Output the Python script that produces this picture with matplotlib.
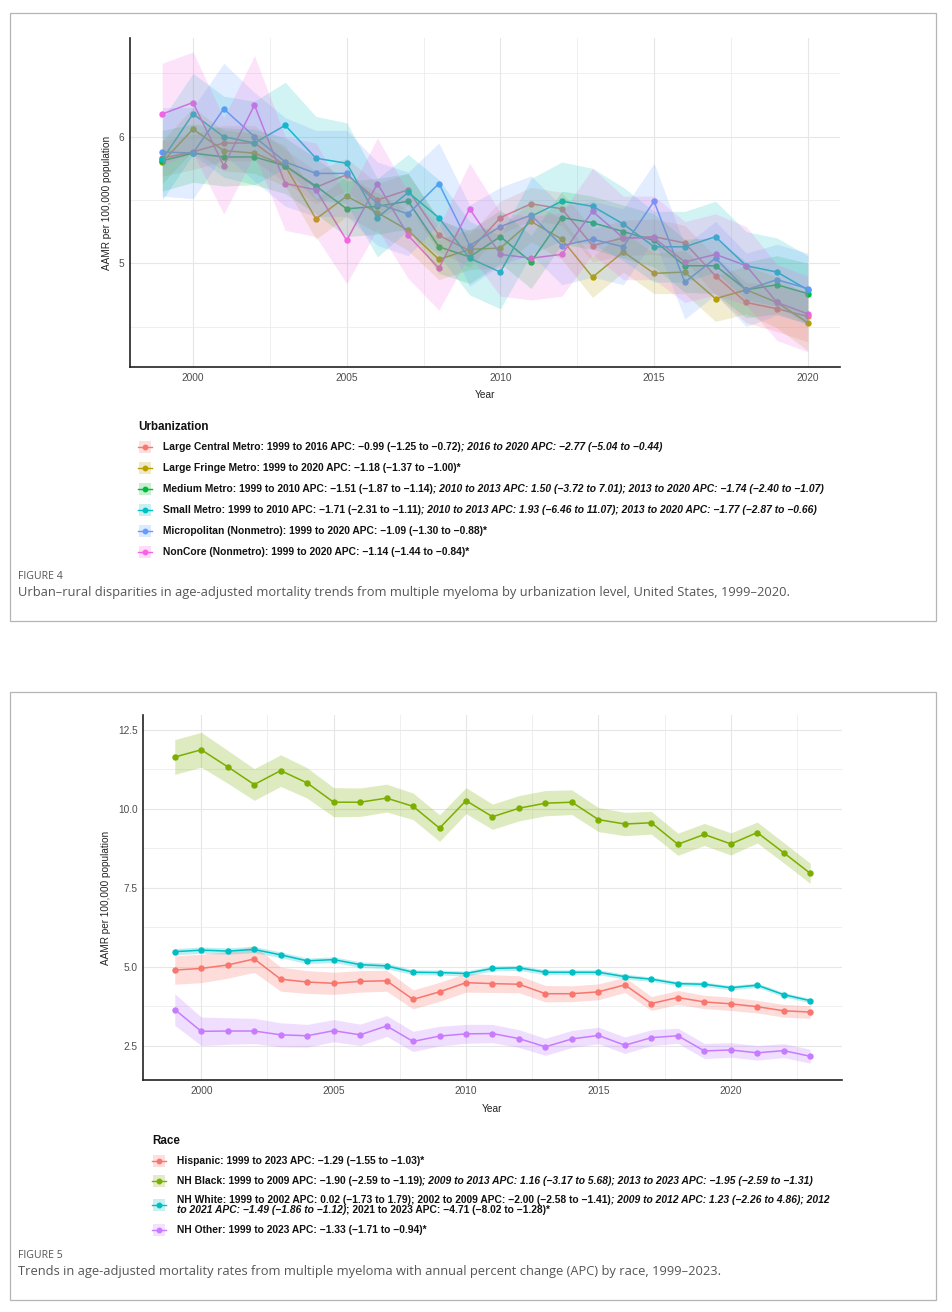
import matplotlib as mpl
mpl.use('Agg')
import matplotlib.pyplot as plt
from matplotlib import font_manager
from matplotlib.patches import Rectangle
from matplotlib.lines import Line2D

W, H = 952, 1312

# ---------------- Figure 4 data (urbanization) ----------------
years_urban = list(range(1999, 2021))
urban_colors = ['#F8766D', '#B79F00', '#00BA38', '#00BFC4', '#619CFF', '#F564E3']

large_central = [5.83, 5.88, 5.95, 5.95, 5.77, 5.60, 5.70, 5.50, 5.58, 5.22, 5.10,
                 5.36, 5.47, 5.43, 5.14, 5.20, 5.21, 5.16, 4.90, 4.69, 4.64, 4.58]
large_fringe = [5.80, 6.06, 5.89, 5.87, 5.77, 5.35, 5.53, 5.40, 5.26, 5.03, 5.11,
                5.12, 5.33, 5.19, 4.89, 5.09, 4.92, 4.93, 4.72, 4.79, 4.69, 4.53]
medium_metro = [5.81, 5.87, 5.84, 5.84, 5.77, 5.61, 5.43, 5.45, 5.49, 5.13, 5.05,
                5.21, 5.01, 5.36, 5.32, 5.25, 5.18, 4.98, 4.98, 4.79, 4.83, 4.76]
small_metro = [5.82, 6.18, 6.00, 5.95, 6.09, 5.83, 5.79, 5.36, 5.56, 5.36, 5.04,
               4.93, 5.37, 5.49, 5.45, 5.31, 5.13, 5.13, 5.21, 4.98, 4.93, 4.79]
micropolitan = [5.88, 5.87, 6.22, 6.00, 5.80, 5.71, 5.71, 5.47, 5.39, 5.63, 5.14,
                5.29, 5.38, 5.14, 5.19, 5.13, 5.49, 4.85, 5.04, 4.79, 4.87, 4.80]
noncore = [6.18, 6.27, 5.77, 6.25, 5.63, 5.58, 5.18, 5.63, 5.22, 4.96, 5.43,
           5.07, 5.04, 5.07, 5.41, 5.20, 5.20, 5.01, 5.07, 4.98, 4.69, 4.60]

# half-width of 95% CI ribbons
large_central_ci = [0.14, 0.14, 0.14, 0.14, 0.13, 0.13, 0.13, 0.13, 0.13, 0.13, 0.13,
                    0.13, 0.13, 0.13, 0.13, 0.14, 0.14, 0.14, 0.15, 0.16, 0.18, 0.20]
large_fringe_ci = [0.17, 0.17, 0.16, 0.16, 0.16, 0.16, 0.16, 0.16, 0.16, 0.16, 0.16,
                   0.16, 0.16, 0.16, 0.16, 0.16, 0.16, 0.17, 0.18, 0.19, 0.20, 0.22]
medium_metro_ci = [0.24, 0.23, 0.23, 0.22, 0.22, 0.22, 0.22, 0.22, 0.22, 0.21, 0.21,
                   0.21, 0.21, 0.21, 0.21, 0.21, 0.21, 0.21, 0.22, 0.22, 0.23, 0.24]
small_metro_ci = [0.32, 0.32, 0.32, 0.33, 0.34, 0.33, 0.32, 0.31, 0.30, 0.30, 0.29,
                  0.29, 0.30, 0.31, 0.30, 0.29, 0.28, 0.28, 0.28, 0.27, 0.27, 0.27]
micropolitan_ci = [0.35, 0.36, 0.36, 0.35, 0.35, 0.34, 0.34, 0.33, 0.33, 0.32, 0.32,
                   0.31, 0.31, 0.31, 0.30, 0.30, 0.30, 0.29, 0.29, 0.29, 0.28, 0.28]
noncore_ci = [0.40, 0.40, 0.38, 0.39, 0.37, 0.37, 0.34, 0.36, 0.34, 0.33, 0.36,
              0.33, 0.33, 0.33, 0.34, 0.33, 0.33, 0.32, 0.32, 0.31, 0.30, 0.30]

urban_series = [large_central, large_fringe, medium_metro, small_metro, micropolitan, noncore]
urban_cis = [large_central_ci, large_fringe_ci, medium_metro_ci, small_metro_ci,
             micropolitan_ci, noncore_ci]

urban_legend = [
    [('Large Central Metro: 1999 to 2016 APC: \u22120.99 (\u22121.25 to \u22120.72)', False),
     ('; 2016 to 2020 APC: \u22122.77 (\u22125.04 to \u22120.44)', True)],
    [('Large Fringe Metro: 1999 to 2020 APC: \u22121.18 (\u22121.37 to \u22121.00)*', False)],
    [('Medium Metro: 1999 to 2010 APC: \u22121.51 (\u22121.87 to \u22121.14)', False),
     ('; 2010 to 2013 APC: 1.50 (\u22123.72 to 7.01); 2013 to 2020 APC: \u22121.74 (\u22122.40 to \u22121.07)', True)],
    [('Small Metro: 1999 to 2010 APC: \u22121.71 (\u22122.31 to \u22121.11)', False),
     ('; 2010 to 2013 APC: 1.93 (\u22126.46 to 11.07); 2013 to 2020 APC: \u22121.77 (\u22122.87 to \u22120.66)', True)],
    [('Micropolitan (Nonmetro): 1999 to 2020 APC: \u22121.09 (\u22121.30 to \u22120.88)*', False)],
    [('NonCore (Nonmetro): 1999 to 2020 APC: \u22121.14 (\u22121.44 to \u22120.84)*', False)],
]

# ---------------- Figure 5 data (race) ----------------
years_race = list(range(1999, 2024))
race_colors = ['#F8766D', '#7CAE00', '#00BFC4', '#C77CFF']

hispanic = [4.90, 4.95, 5.06, 5.25, 4.61, 4.52, 4.48, 4.54, 4.56, 3.97, 4.21, 4.50, 4.47,
            4.45, 4.15, 4.15, 4.21, 4.43, 3.84, 4.03, 3.89, 3.83, 3.74, 3.61, 3.57]
nh_black = [11.64, 11.87, 11.33, 10.77, 11.21, 10.82, 10.21, 10.21, 10.34, 10.08, 9.39, 10.26, 9.75,
            10.02, 10.18, 10.21, 9.66, 9.52, 9.56, 8.88, 9.19, 8.89, 9.25, 8.61, 7.96]
nh_white = [5.48, 5.53, 5.50, 5.55, 5.38, 5.19, 5.23, 5.07, 5.03, 4.83, 4.82, 4.79, 4.95,
            4.97, 4.83, 4.83, 4.83, 4.69, 4.61, 4.47, 4.45, 4.34, 4.42, 4.12, 3.93]
nh_other = [3.65, 2.96, 2.97, 2.97, 2.85, 2.82, 2.98, 2.85, 3.13, 2.64, 2.81, 2.88, 2.89,
            2.73, 2.47, 2.72, 2.83, 2.52, 2.76, 2.82, 2.34, 2.37, 2.28, 2.35, 2.17]

hispanic_ci = [0.45, 0.45, 0.42, 0.42, 0.38, 0.36, 0.35, 0.34, 0.33, 0.30, 0.30, 0.30, 0.28,
               0.27, 0.26, 0.25, 0.25, 0.24, 0.22, 0.22, 0.21, 0.21, 0.20, 0.20, 0.20]
nh_black_ci = [0.55, 0.55, 0.52, 0.50, 0.50, 0.48, 0.46, 0.45, 0.44, 0.42, 0.42, 0.41, 0.40,
               0.40, 0.40, 0.39, 0.38, 0.37, 0.36, 0.35, 0.35, 0.35, 0.33, 0.32, 0.32]
nh_white_ci = [0.10, 0.10, 0.10, 0.10, 0.09, 0.09, 0.09, 0.09, 0.09, 0.08, 0.08, 0.08, 0.08,
               0.08, 0.08, 0.08, 0.08, 0.08, 0.07, 0.07, 0.07, 0.07, 0.07, 0.07, 0.07]
nh_other_ci = [0.50, 0.45, 0.42, 0.40, 0.38, 0.36, 0.35, 0.34, 0.33, 0.32, 0.31, 0.30, 0.29,
               0.28, 0.27, 0.27, 0.26, 0.26, 0.25, 0.24, 0.24, 0.23, 0.23, 0.22, 0.22]

race_series = [hispanic, nh_black, nh_white, nh_other]
race_cis = [hispanic_ci, nh_black_ci, nh_white_ci, nh_other_ci]

race_legend = [
    [[('Hispanic: 1999 to 2023 APC: \u22121.29 (\u22121.55 to \u22121.03)*', False)]],
    [[('NH Black: 1999 to 2009 APC: \u22121.90 (\u22122.59 to \u22121.19)', False),
      ('; 2009 to 2013 APC: 1.16 (\u22123.17 to 5.68); 2013 to 2023 APC: \u22121.95 (\u22122.59 to \u22121.31)', True)]],
    [[('NH White: 1999 to 2002 APC: 0.02 (\u22121.73 to 1.79); 2002 to 2009 APC: \u22122.00 (\u22122.58 to \u22121.41)', False),
      ('; 2009 to 2012 APC: 1.23 (\u22122.26 to 4.86); 2012', True)],
     [('to 2021 APC: \u22121.49 (\u22121.86 to \u22121.12)', True),
      ('; 2021 to 2023 APC: \u22124.71 (\u22128.02 to \u22121.28)*', False)]],
    [[('NH Other: 1999 to 2023 APC: \u22121.33 (\u22121.71 to \u22120.94)*', False)]],
]

cap4_label = 'FIGURE 4'
cap4_text = ('Urban\u2013rural disparities in age-adjusted mortality trends from multiple myeloma '
             'by urbanization level, United States, 1999\u20132020.')
cap5_label = 'FIGURE 5'
cap5_text = ('Trends in age-adjusted mortality rates from multiple myeloma with annual percent '
             'change (APC) by race, 1999\u20132023.')

# ---------------- fonts ----------------
names = {f.name for f in font_manager.fontManager.ttflist}
if 'Liberation Sans Narrow' in names:
    leg_family = ['Liberation Sans Narrow', 'DejaVu Sans']
    leg_size = 9.0
else:
    leg_family = ['Liberation Sans', 'DejaVu Sans']
    leg_size = 7.4
ax_family = ['Liberation Sans', 'DejaVu Sans']
cap_family = ['Open Sans', 'DejaVu Sans']


def fx(px):
    return px / W


def fy(py):
    return 1 - py / H


def rich_line(fig, x_px, y_px, parts):
    r = fig.canvas.get_renderer()
    x = x_px
    for txt, italic in parts:
        t = fig.text(fx(x), fy(y_px), txt, fontsize=leg_size, fontweight='bold',
                     fontstyle='italic' if italic else 'normal', family=leg_family,
                     va='center', ha='left', color='#111111')
        bb = t.get_window_extent(renderer=r)
        x = bb.x1


def legend_key(fig, x_px, y_px, color):
    fig.add_artist(Rectangle((fx(x_px - 6), fy(y_px + 6)), 12 / W, 12 / H,
                             transform=fig.transFigure, facecolor=color, alpha=0.22,
                             edgecolor='none'))
    fig.add_artist(Line2D([fx(x_px - 7), fx(x_px + 7)], [fy(y_px), fy(y_px)],
                          color=color, lw=1.0, transform=fig.transFigure))
    fig.add_artist(Line2D([fx(x_px)], [fy(y_px)], marker='o', ms=3.2, color=color,
                          transform=fig.transFigure))


def style_axes(ax):
    for s in ['top', 'right']:
        ax.spines[s].set_visible(False)
    for s in ['left', 'bottom']:
        ax.spines[s].set_linewidth(1.2)
        ax.spines[s].set_color('#222222')
    ax.grid(True, which='major', color='#e6e6e6', lw=0.8)
    ax.grid(True, which='minor', color='#ececec', lw=0.6)
    ax.set_axisbelow(True)
    ax.tick_params(which='both', length=0, labelsize=7.3, labelcolor='#4d4d4d', pad=4)
    for lab in ax.get_xticklabels() + ax.get_yticklabels():
        lab.set_family(ax_family)
    ax.set_xlabel('Year', fontsize=7.3, family=ax_family, color='#222222')
    ax.set_ylabel('AAMR per 100,000 population', fontsize=7.2, family=ax_family, color='#222222')


fig = plt.figure(figsize=(W / 100, H / 100), dpi=100)

# outer boxes
for top, bot in [(13, 621), (692, 1300)]:
    fig.add_artist(Rectangle((fx(10), fy(bot)), (936 - 10) / W, (bot - top) / H,
                             transform=fig.transFigure, fill=False, edgecolor='#b5b5b5', lw=0.9))

# ---------------- top panel ----------------
ax1 = fig.add_axes([fx(130), fy(367), (840 - 130) / W, (367 - 38) / H])
for vals, ci, col in zip(urban_series, urban_cis, urban_colors):
    ax1.plot(years_urban, vals, color=col, lw=1.1, marker='o', ms=3.6, zorder=2)
for vals, ci, col in zip(urban_series, urban_cis, urban_colors):
    lo = [v - c for v, c in zip(vals, ci)]
    hi = [v + c for v, c in zip(vals, ci)]
    ax1.fill_between(years_urban, lo, hi, color=col, alpha=0.18, lw=0, zorder=3)
ax1.set_xlim(1997.95, 2021.05)
ax1.set_ylim(4.18, 6.78)
ax1.set_xticks([2000, 2005, 2010, 2015, 2020])
ax1.set_xticks([2002.5, 2007.5, 2012.5, 2017.5], minor=True)
ax1.set_yticks([5, 6])
ax1.set_yticks([4.5, 5.5, 6.5], minor=True)
style_axes(ax1)
ax1.yaxis.set_label_coords(-0.026, 0.5)
ax1.xaxis.set_label_coords(0.5, -0.07)

fig.text(fx(138), fy(427), 'Urbanization', fontsize=8.4, fontweight='bold',
         family=ax_family, va='center', ha='left', color='#111111')
for i, parts in enumerate(urban_legend):
    y = 447 + i * 21
    legend_key(fig, 145, y, urban_colors[i])
    rich_line(fig, 163, y, parts)

fig.text(fx(18), fy(577), cap4_label, fontsize=7.6, family=cap_family,
         va='center', ha='left', color='#555555')
fig.text(fx(18), fy(593), cap4_text, fontsize=9.25, family=cap_family,
         va='center', ha='left', color='#555555')

# ---------------- bottom panel ----------------
ax2 = fig.add_axes([fx(143), fy(1080), (842 - 143) / W, (1080 - 715) / H])
for vals, ci, col in zip(race_series, race_cis, race_colors):
    lo = [v - c for v, c in zip(vals, ci)]
    hi = [v + c for v, c in zip(vals, ci)]
    ax2.fill_between(years_race, lo, hi, color=col, alpha=0.25, lw=0, zorder=2)
    ax2.plot(years_race, vals, color=col, lw=1.1, marker='o', ms=3.6, zorder=3)
ax2.set_xlim(1997.8, 2024.2)
ax2.set_ylim(1.42, 12.97)
ax2.set_xticks([2000, 2005, 2010, 2015, 2020])
ax2.set_xticks([2002.5, 2007.5, 2012.5, 2017.5, 2022.5], minor=True)
ax2.set_yticks([2.5, 5.0, 7.5, 10.0, 12.5])
ax2.set_yticks([3.75, 6.25, 8.75, 11.25], minor=True)
ax2.set_yticklabels(['2.5', '5.0', '7.5', '10.0', '12.5'])
style_axes(ax2)
ax2.yaxis.set_label_coords(-0.046, 0.5)
ax2.xaxis.set_label_coords(0.5, -0.066)

fig.text(fx(152), fy(1141), 'Race', fontsize=8.4, fontweight='bold',
         family=ax_family, va='center', ha='left', color='#111111')
race_rows = [1161, 1181, 1205, 1230]
for i, lines in enumerate(race_legend):
    y = race_rows[i]
    legend_key(fig, 159, y, race_colors[i])
    if len(lines) == 1:
        rich_line(fig, 177, y, lines[0])
    else:
        rich_line(fig, 177, y - 5, lines[0])
        rich_line(fig, 177, y + 5, lines[1])

fig.text(fx(18), fy(1255), cap5_label, fontsize=7.6, family=cap_family,
         va='center', ha='left', color='#555555')
fig.text(fx(18), fy(1272), cap5_text, fontsize=9.25, family=cap_family,
         va='center', ha='left', color='#555555')

fig.savefig('out.png', dpi=100)
plt.close(fig)
